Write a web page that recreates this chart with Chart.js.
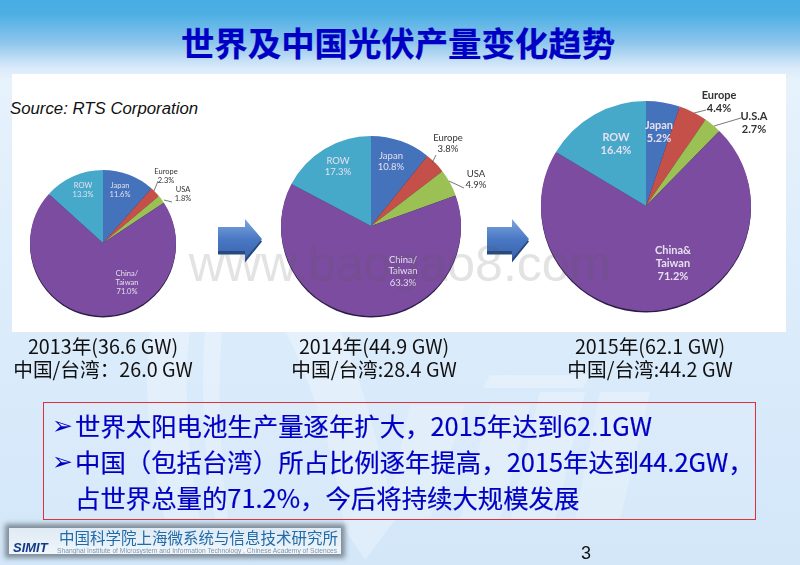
<!DOCTYPE html>
<html lang="zh"><head><meta charset="utf-8">
<script src="https://cdn.jsdelivr.net/npm/chart.js@4"></script>
<style>
html,body{margin:0;padding:0;width:800px;height:565px;overflow:hidden}
#stage{position:relative;width:800px;height:565px;overflow:hidden;filter:blur(.35px);
 background:linear-gradient(180deg,#48ade3 0,#4cafe4 14px,#8cc5ec 42px,#dbeafa 68px,#e6f2fc 80px,#dcecfb 300px,#d3e7f9 565px);
 font-family:"Noto Sans CJK SC","Noto Sans",sans-serif}
#stage div,#stage canvas,#stage svg{position:absolute}
.c{transform:translateX(-50%);white-space:nowrap;text-align:center}
.lab{transform:translate(-50%,-50%);white-space:pre;text-align:center;font-family:Lato,"Open Sans",sans-serif;line-height:1.2}
</style></head><body><div id="stage"></div>
<script>
const categories2013=["Japan","Europe","USA","China/\nTaiwan","ROW"];
const shares2013=[11.6,2.3,1.8,71.0,13.3];
const categories2014=["Japan","Europe","USA","China/\nTaiwan","ROW"];
const shares2014=[10.8,3.8,4.9,63.3,17.3];
const categories2015=["Japan","Europe","U.S.A","China&\nTaiwan","ROW"];
const shares2015=[5.2,4.4,2.7,71.2,16.4];
const sliceColors=["#4472bb","#c5504a","#9bc155","#7b4c9f","#46a9c9"];
const captionLine1=["2013年(36.6 GW)","2014年(44.9 GW)","2015年(62.1 GW)"];
const captionLine2=["中国/台湾：26.0 GW","中国/台湾:28.4 GW","中国/台湾:44.2 GW"];
const titleText="世界及中国光伏产量变化趋势";
const sourceText="Source: RTS Corporation";
const bullets=["世界太阳电池生产量逐年扩大，2015年达到62.1GW","中国（包括台湾）所占比例逐年提高，2015年达到44.2GW，","占世界总量的71.2%，今后将持续大规模发展"];

const stage=document.getElementById('stage');
function el(tag,css,txt,cls){const e=document.createElement(tag);e.style.cssText=css;if(txt!=null)e.textContent=txt;if(cls)e.className=cls;stage.appendChild(e);return e}

/* background swoosh */
stage.insertAdjacentHTML('beforeend',`<svg width="800" height="565" style="left:0;top:0" fill="#fff" opacity=".28">
<path d="M150 330 L190 330 Q180 420 200 520 L165 520 Q140 420 150 330Z"/>
<path d="M205 330 L222 330 Q215 420 228 520 L215 520 Q198 420 205 330Z"/>
<path d="M285 330 L340 330 Q370 400 395 520 L365 560 L345 530 Q330 420 285 330Z"/>
<path d="M490 405 L530 405 L500 520 L460 520Z"/><path d="M540 392 L585 392 L555 520 L510 520Z"/>
<path d="M600 392 L650 392 L620 520 L575 520Z"/><path d="M410 405 L465 405 L430 520 L385 520Z"/>
<path d="M490 375 L590 375 L583 388 L483 388Z"/>
</svg>`);

/* white panel */
el('div','left:12px;top:74px;width:774px;height:258px;background:#fff');
el('div','left:398px;top:19px;font-size:33.4px;font-weight:700;color:#0000c4;line-height:46px;-webkit-text-stroke:.25px #0000c4',titleText,'c');
el('div','left:10px;top:99px;font:italic 16.8px "Liberation Sans",sans-serif;color:#111;line-height:20px',sourceText);

/* pies */
const shadowPlugin={id:'pieShadow',beforeDatasetsDraw(ch){const a=ch.getDatasetMeta(0).data[0];const c=ch.ctx;c.save();c.fillStyle='#2c1c48';c.beginPath();c.arc(a.x,a.y+1.5,a.outerRadius,0,Math.PI*2);c.fill();c.restore()}};
function pie(labels,values,cx,cy,r){
  const pad=3,size=2*(r+pad);
  const cv=el('canvas',`left:${cx-r-pad}px;top:${cy-r-pad}px;width:${size}px;height:${size}px`);
  cv.width=size;cv.height=size;
  new Chart(cv,{type:'pie',plugins:[shadowPlugin],data:{labels,datasets:[{data:values,backgroundColor:sliceColors,borderWidth:0}]},
   options:{responsive:false,animation:false,layout:{padding:pad},plugins:{legend:{display:false},tooltip:{enabled:false}}}});
}
pie(categories2013,shares2013,103,243,73);
pie(categories2014,shares2014,371,226,90);
pie(categories2015,shares2015,646,206,105);

/* data labels: one [x,y] per slice */
const labelAt2013=[[120,190],[166,176],[183,194],[127,282],[83,190]];
const labelAt2014=[[391,161],[448,143],[476,179],[403,271],[338,166]];
const labelAt2015=[[659,131],[719,101],[754,122],[673,263],[616,143]];
function labels(cats,vals,at,size,bold){
  cats.forEach((n,i)=>{const dark=i==1||i==2;
    el('div',`left:${at[i][0]}px;top:${at[i][1]}px;font-size:${size}px;font-weight:${bold?700:400};color:${dark?'#333':'#e6e0f0'}`,n+"\n"+vals[i].toFixed(1)+"%",'lab');});
}
labels(categories2013,shares2013,labelAt2013,7.5,false);
labels(categories2014,shares2014,labelAt2014,9.5,false);
labels(categories2015,shares2015,labelAt2015,11,true);

/* leader lines, arrows */
stage.insertAdjacentHTML('beforeend',`<svg width="800" height="565" style="left:0;top:0">
<defs><linearGradient id="ag" x1="0" y1="0" x2="0" y2="1"><stop offset="0" stop-color="#7fa6dc"/><stop offset=".5" stop-color="#4a78c4"/><stop offset="1" stop-color="#3a64ac"/></linearGradient></defs>
<g stroke="#555" stroke-width=".8" fill="none">
<path d="M158 181L154 191"/><path d="M172 202L164 200"/>
<path d="M436 155L432 163"/><path d="M464 188L449 181"/>
<path d="M706 110L694 113"/><path d="M741 118L714 126"/></g>
<g id="arrows">
<path d="M218 229H245V219L262 240L245 261V253H218Z" fill="#26497f" transform="translate(0,1.5)"/>
<path d="M218 227H245V219L262 239L245 259V251H218Z" fill="url(#ag)"/>
<path d="M487 229H512V219L529 240L512 261V253H487Z" fill="#26497f" transform="translate(0,1.5)"/>
<path d="M487 227H512V219L529 239L512 259V251H487Z" fill="url(#ag)"/>
</g></svg>`);

/* watermark */
el('div','left:400px;top:236px;font:50px/56px "Liberation Sans",sans-serif;color:rgba(90,90,90,.17)','www.baogao8.com','c');

/* captions */
const capX=[103,374,650];
capX.forEach((x,i)=>{
  el('div',`left:${x}px;top:334px;font-size:19.7px;line-height:24px;color:#111`,captionLine1[i],'c');
  el('div',`left:${x}px;top:357px;font-size:19.7px;line-height:24px;color:#111`,captionLine2[i],'c');
});

/* red text box */
el('div','left:43px;top:402px;width:711px;height:116px;border:1px solid #e0303a;background:rgba(225,240,253,.3)');
const lineTop=[406,442,478];
bullets.forEach((t,i)=>{
  if(i<2) el('div',`left:52px;top:${lineTop[i]+5}px;font:bold 25px/30px "DejaVu Sans";color:#0000c4`,'➢');
  el('div',`left:75px;top:${lineTop[i]}px;font-size:25.4px;line-height:38px;color:#0000c4;-webkit-text-stroke:.2px #0000c4`,t);
});

/* logo */
el('div','left:9px;top:528px;width:332px;height:26px;background:linear-gradient(180deg,#dfeaf4,#f0f6fb);box-shadow:0 0 5px 4px #7f8c98');
el('div','left:13px;top:542px;font:italic 800 13px/12px "Liberation Sans";color:#123a86','SIMIT');
el('div','left:59px;top:527px;font-size:15.5px;line-height:20px;color:#1f6aa8','中国科学院上海微系统与信息技术研究所');
el('div','left:57px;top:547px;font:6.7px/8px "Liberation Sans";color:#7d95ad','Shanghai Institute of Microsystem and Information Technology , Chinese Academy of Sciences');
el('div','left:581px;top:542px;font:18px/22px "Liberation Sans";color:#111','3');
</script></body></html>
